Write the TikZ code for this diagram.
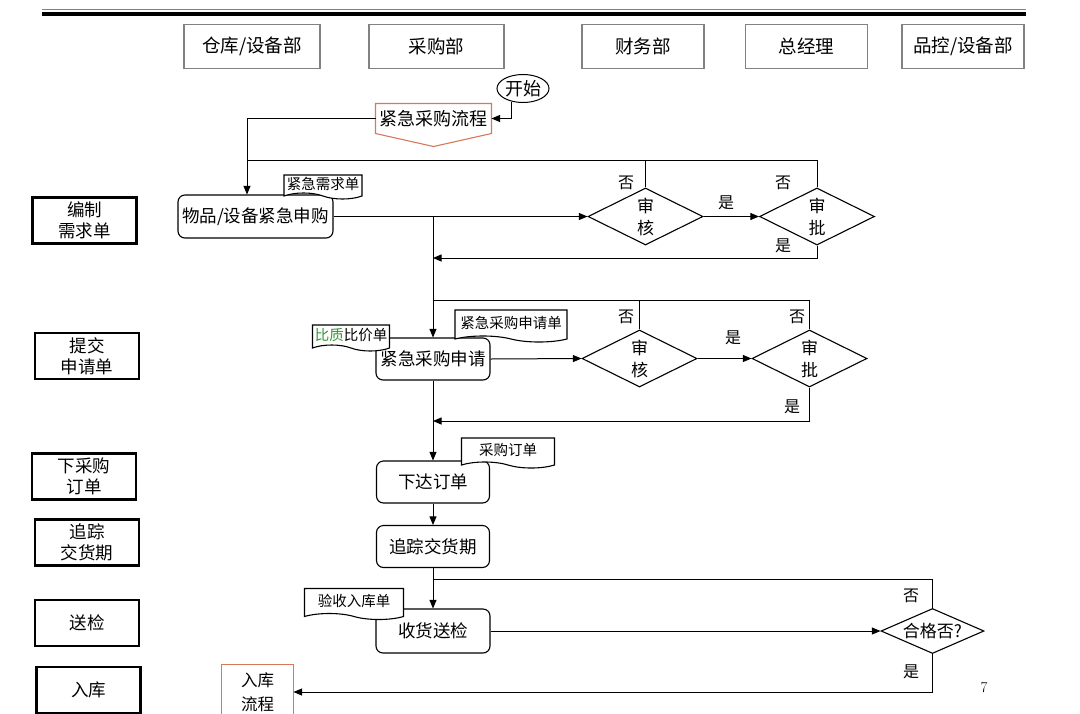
\documentclass[tikz,border=0pt]{standalone}
\usepackage{fontspec}
\newfontfamily\cjk{Noto Sans CJK SC}
\usetikzlibrary{arrows,shapes.geometric,shapes.symbols,calc}
\definecolor{flowred}{RGB}{214,120,90}
\definecolor{headgray}{RGB}{130,130,130}
\definecolor{qgreen}{RGB}{50,150,50}

\begin{document}
\begin{tikzpicture}[x=1pt,y=-1pt,>=triangle 45,line width=1pt,
  head node/.style={rectangle,draw=headgray,line width=1.2pt,minimum width=122pt,minimum height=44pt,font=\cjk\fontsize{18.5}{21}\selectfont},
  lane node/.style={rectangle,draw,line width=2.2pt,minimum width=104pt,minimum height=46pt,inner sep=0pt,align=center,font=\cjk\fontsize{17.5}{21}\selectfont},
  step node/.style={rectangle,rounded corners=7pt,draw,line width=1.1pt,minimum width=113pt,minimum height=42pt,inner sep=1pt,font=\cjk\fontsize{17.5}{20}\selectfont},
  check node/.style={diamond,aspect=2,draw,line width=1.1pt,minimum width=115pt,minimum height=57pt,inner sep=0pt,align=center,font=\cjk\fontsize{17}{22}\selectfont},
  doc node/.style={tape,tape bend top=none,tape bend bottom=out and in,tape bend height=6pt,draw,fill=white,line width=1.1pt,inner sep=2pt,font=\cjk\fontsize{14.5}{17}\selectfont},
  tag node/.style={inner sep=0pt,font=\cjk\fontsize{16}{18}\selectfont},
  link node/.style={rectangle,inner sep=0pt,align=center}]

  \useasboundingbox (0,0) rectangle (1080,713);

  % top rule
  \draw[headgray,line width=1.2pt] (42,9.8) -- (1026,9.8);
  \draw[line width=4pt] (42,13.5) -- (1026,13.5);

  % departments
  \node[head node,minimum width=136pt] (h1) at (252,46.5) {仓库/设备部};
  \node[head node,minimum width=135pt] (h2) at (436.5,46.5) {采购部};
  \node[head node] (h3) at (643,46.5) {财务部};
  \node[head node] (h4) at (806.5,46.5) {总经理};
  \node[head node] (h5) at (963,46.5) {品控/设备部};

  % stages
  \node[lane node] (l1) at (84.5,220.5) {编制\\需求单};
  \node[lane node] (l2) at (87,356) {提交\\申请单};
  \node[lane node] (l3) at (84,476.5) {下采购\\订单};
  \node[lane node] (l4) at (87,542.5) {追踪\\交货期};
  \node[lane node] (l5) at (87,623) {送检};
  \node[lane node] (l6) at (88.5,690) {入库};

  % start
  \node[ellipse,draw,minimum width=52pt,minimum height=28pt,inner sep=0pt,font=\cjk\fontsize{18}{20}\selectfont] (start) at (523,88.5) {开始};
  \node[link node,minimum width=115pt,minimum height=29pt,font=\cjk\fontsize{18}{20}\selectfont] (flow1) at (433.5,118.5) {紧急采购流程};
  \draw[flowred,line width=1.1pt] (flow1.south west) -- (flow1.north west) -- (flow1.north east) -- (flow1.south east) -- ($(flow1.south)+(0,13)$) -- cycle;

  % requisition
  \coordinate (c1) at (247,160);
  \node[step node,minimum width=155pt,minimum height=43pt] (req) at (255.5,216.5) {物品/设备紧急申购};
  \node[check node] (chk1) at (645.5,216.5) {审\\核};
  \node[check node] (apv1) at (817,216.5) {审\\批};
  \coordinate (j1) at (433,216.5);
  \coordinate (j2) at (433,258);
  \coordinate (c2) at (433,300);

  % application
  \node[step node,minimum width=114pt] (app) at (433,359) {紧急采购申请};
  \node[check node] (chk2) at (639.5,358.5) {审\\核};
  \node[check node] (apv2) at (809.5,358.5) {审\\批};
  \coordinate (j3) at (433,421);

  % order and delivery
  \node[step node] (order) at (433,482) {下达订单};
  \node[step node] (track) at (433,546.5) {追踪交货期};
  \coordinate (c3) at (433,579);
  \node[step node,minimum width=114pt,minimum height=44pt] (recv) at (433,631) {收货送检};
  \node[check node,aspect=2.3,minimum width=103pt,minimum height=45pt] (qc) at (932.5,631) {合格否?};
  \node[link node,minimum width=71pt,minimum height=54pt,font=\cjk\fontsize{16.5}{24}\selectfont] (stock) at (257.5,692) {入库\\流程};
  \draw[flowred,line width=1.1pt] (stock.south west) -- (stock.north west) -- (stock.north east) -- (stock.south east);

  % connectors
  \draw[->] (start.230) |- (flow1.east);
  \draw (flow1.west) -| (c1);
  \draw[->] (c1) -- (c1 |- req.north);
  \draw (apv1.north) |- (c1);
  \draw (chk1.north) -- (chk1.north |- c1);
  \draw[->] (req.east) -- (chk1.west);
  \draw[->] (chk1.east) -- (apv1.west);
  \draw[->] (apv1.south) |- (j2);
  \draw[->] (j1) -- (app.north);
  \draw (apv2.north) |- (c2);
  \draw (chk2.north) -- (chk2.north |- c2);
  \draw[->] (app.east) -- (chk2.west);
  \draw[->] (chk2.east) -- (apv2.west);
  \draw[->] (apv2.south) |- (j3);
  \draw[->] (app.south) -- (order.north);
  \draw[->] (order.south) -- (track.north);
  \draw[->] (track.south) -- (recv.north);
  \draw (qc.north) |- (c3);
  \draw[->] (recv.east) -- (qc.west);
  \draw[->] (qc.south) |- (stock.east);

  % documents
  \node[doc node,minimum width=78pt,minimum height=24pt] (d1) at (323,184) {紧急需求单};
  \node[doc node,minimum width=112pt,minimum height=32pt] (d2) at (511,323) {紧急采购申请单};
  \node[doc node,minimum width=77pt,minimum height=26pt] (d3) at (351,335) {\textcolor{qgreen}{比质}比价单};
  \node[doc node,minimum width=93pt,minimum height=30pt] (d4) at (508,450) {采购订单};
  \node[doc node,minimum width=99pt,minimum height=31pt] (d5) at (354,601) {验收入库单};

  % answers
  \node[tag node] (no1) at (626,183) {否};
  \node[tag node] (no2) at (783,183) {否};
  \node[tag node] (yes1) at (726,203) {是};
  \node[tag node] (yes2) at (783,246) {是};
  \node[tag node] (no3) at (626,317) {否};
  \node[tag node] (no4) at (797,317) {否};
  \node[tag node] (yes3) at (733,338) {是};
  \node[tag node] (yes4) at (792,407) {是};
  \node[tag node] (no5) at (911,596) {否};
  \node[tag node] (yes5) at (911,672) {是};

  \node[font=\fontsize{15}{17}\selectfont] (page) at (984,688) {7};
\end{tikzpicture}
\end{document}
